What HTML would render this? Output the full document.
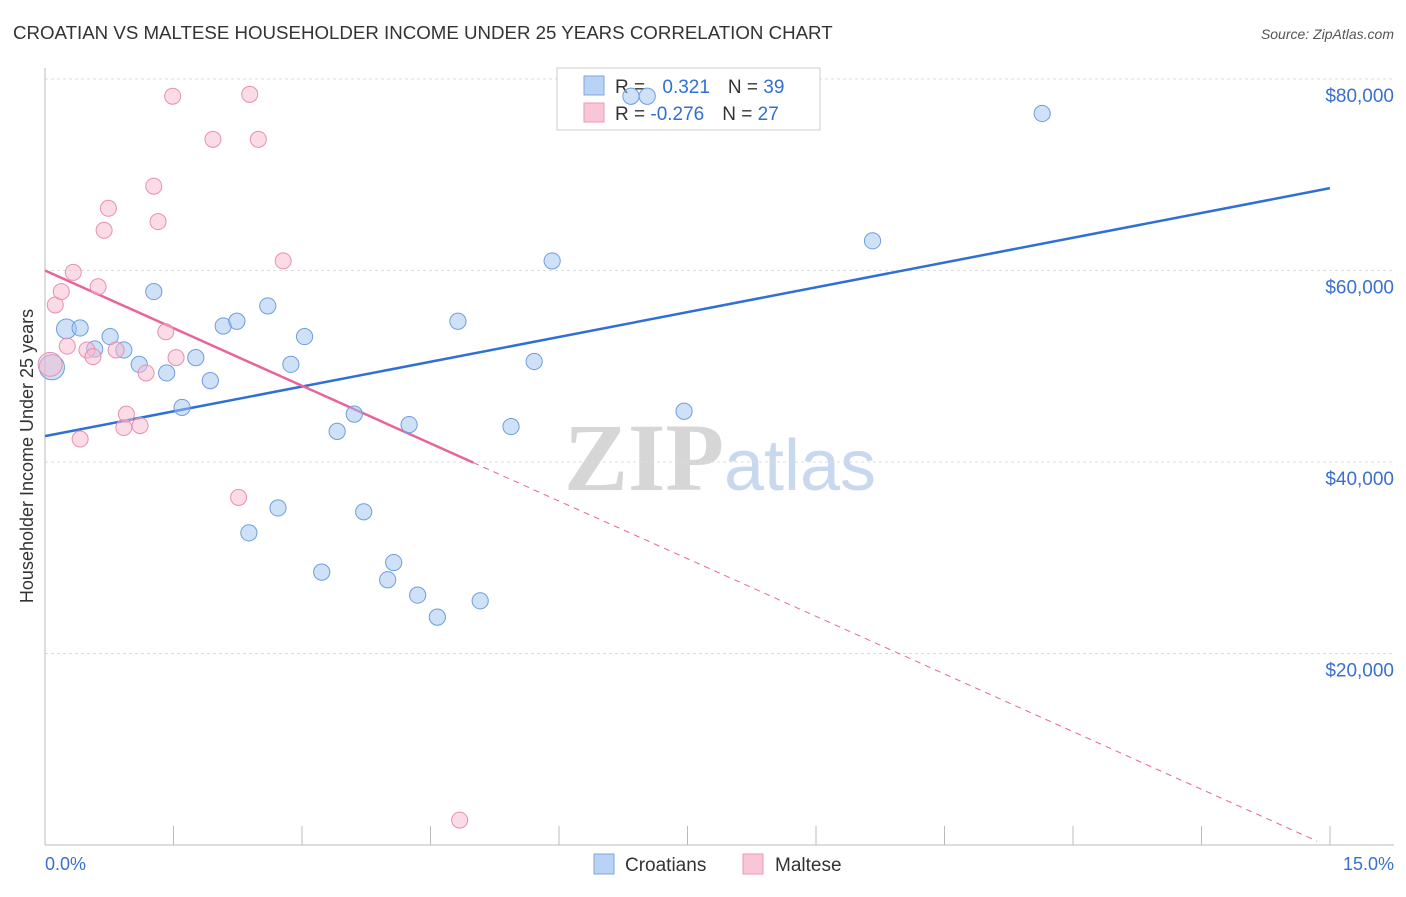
<!DOCTYPE html>
<html><head><meta charset="utf-8"><style>
body{margin:0;background:#fff;font-family:"Liberation Sans",sans-serif;}
svg text{font-family:"Liberation Sans",sans-serif;}
</style></head><body>
<svg id="chart" width="1406" height="892" xmlns="http://www.w3.org/2000/svg">
<text x="13" y="39" font-size="18.7" fill="#333">CROATIAN VS MALTESE HOUSEHOLDER INCOME UNDER 25 YEARS CORRELATION CHART</text>
<text x="1394" y="39" font-size="14" fill="#555" text-anchor="end" font-style="italic">Source: ZipAtlas.com</text>
<text x="720" y="490" font-size="96" text-anchor="middle"><tspan fill="#d6d6d6" font-family="Liberation Serif" font-weight="bold">ZIP</tspan><tspan fill="#c8d9ef" font-size="72">atlas</tspan></text>
<g id="grid"></g>
<g id="axes"></g>
<g>
<rect x="557" y="68" width="263" height="62" fill="#fff" stroke="#ccc"/>
<rect x="584" y="76" width="20" height="19" fill="#b9d3f5" stroke="#7fa6e0"/>
<rect x="584" y="103" width="20" height="19" fill="#f9c6d6" stroke="#ec9ab5"/>
<text x="615" y="93" font-size="19" fill="#333">R = <tspan fill="#2f6fd6" dx="12">0.321</tspan><tspan dx="18" fill="#333">N = </tspan><tspan fill="#2f6fd6">39</tspan></text>
<text x="615" y="120" font-size="19" fill="#333">R = <tspan fill="#2f6fd6">-0.276</tspan><tspan dx="18" fill="#333">N = </tspan><tspan fill="#2f6fd6">27</tspan></text>
</g>
<g id="lines"></g>
<g id="points"></g>
<text transform="translate(33,456) rotate(-90)" font-size="18" fill="#333" text-anchor="middle">Householder Income Under 25 years</text>
<text x="45" y="870" font-size="18" fill="#3a6fd0">0.0%</text>
<text x="1394" y="870" font-size="18" fill="#3a6fd0" text-anchor="end">15.0%</text>
<g>
<rect x="594" y="854" width="20" height="20" fill="#b9d3f5" stroke="#7fa6e0"/>
<text x="625" y="871" font-size="19" fill="#333">Croatians</text>
<rect x="743" y="854" width="20" height="20" fill="#f9c6d6" stroke="#ec9ab5"/>
<text x="775" y="871" font-size="19" fill="#333">Maltese</text>
</g>
</svg>
<script>
const yTicks=[20000,40000,60000,80000];
const yTickLabels=["$20,000","$40,000","$60,000","$80,000"];
const xTicks=[0,1.5,3,4.5,6,7.5,9,10.5,12,13.5,15];
const croX=[0.08,0.25,0.41,0.58,0.76,0.92,1.10,1.27,1.42,1.60,1.76,1.93,2.08,2.24,2.38,2.60,2.72,2.87,3.03,3.23,3.41,3.61,3.72,4.00,4.07,4.25,4.35,4.58,4.82,5.08,5.44,5.71,5.92,6.84,7.03,7.46,9.66,11.64];
const croY=[49.9,53.9,54.0,51.8,53.1,51.7,50.2,57.8,49.3,45.7,50.9,48.5,54.2,54.7,32.6,56.3,35.2,50.2,53.1,28.5,43.2,45.0,34.8,27.7,29.5,43.9,26.1,23.8,54.7,25.5,43.7,50.5,61.0,78.2,78.2,45.3,63.1,76.4];
const croR=[14,11,9,9,9,9,9,9,9,9,9,9,9,9,9,9,9,9,9,9,9,9,9,9,9,9,9,9,9,9,9,9,9,9,9,9,9,9];
const malX=[0.06,0.12,0.19,0.26,0.33,0.41,0.49,0.56,0.62,0.69,0.74,0.83,0.92,0.95,1.11,1.18,1.27,1.32,1.41,1.49,1.53,1.96,2.26,2.39,2.49,2.78,4.84];
const malY=[50.2,56.4,57.8,52.1,59.8,42.4,51.7,51.0,58.3,64.2,66.5,51.7,43.6,45.0,43.8,49.3,68.8,65.1,53.6,78.2,50.9,73.7,36.3,78.4,73.7,61.0,2.6];
const croTrend=[42.7,68.6];
const malTrend=[60.0,-0.2];
const malSolidEnd=5.0;

const X0=45,X1=1330,Y0=845,YTOP=79;
const sx=v=>X0+(v/15)*(X1-X0);
const sy=v=>Y0-(v/80000)*(Y0-YTOP);
const NS="http://www.w3.org/2000/svg";
function mk(parent,tag,attrs){const e=document.createElementNS(NS,tag);for(const k in attrs)e.setAttribute(k,attrs[k]);document.getElementById(parent).appendChild(e);return e;}

yTicks.forEach((t,i)=>{
 const g=mk('grid','line',{x1:X0,x2:1394,y1:sy(t),y2:sy(t),stroke:'#ddd','stroke-dasharray':'3,3'});
 
 
 const l=mk('grid','text',{x:1394,y:sy(t)+23,'font-size':19,fill:'#3a6fd0','text-anchor':'end'});
 l.textContent=yTickLabels[i];
 
 
});
const tg=mk('grid','line',{x1:X0,x2:1394,y1:YTOP,y2:YTOP,stroke:'#ddd','stroke-dasharray':'3,3'});


const ax=mk('axes','line',{x1:X0,x2:1394,y1:Y0,y2:Y0,stroke:'#bbb'});


const ay=mk('axes','line',{x1:X0,x2:X0,y1:68,y2:Y0,stroke:'#bbb'});


xTicks.forEach(t=>{
 const k=mk('axes','line',{x1:sx(t),x2:sx(t),y1:826,y2:Y0,stroke:'#bbb'});
 
 
});

croX.forEach((x,i)=>{
 const c=mk('points','circle',{cx:sx(x),cy:sy(croY[i]*1000),r:croR[i]*0.9,fill:'rgba(160,195,240,0.5)',stroke:'#6d9de0','stroke-width':1});
 
 
});
malX.forEach((x,i)=>{
 const r=i===0?12:8;
 const c=mk('points','circle',{cx:sx(x),cy:sy(malY[i]*1000),r:r,fill:'rgba(248,185,205,0.5)',stroke:'#e88fae','stroke-width':1});
 
 
});

const bl=mk('lines','line',{x1:sx(0),y1:sy(croTrend[0]*1000),x2:sx(15),y2:sy(croTrend[1]*1000),stroke:'#2f6fd6','stroke-width':2.5});


const mAt=x=>malTrend[0]+(malTrend[1]-malTrend[0])*x/15;
const pl=mk('lines','line',{x1:sx(0),y1:sy(mAt(0)*1000),x2:sx(malSolidEnd),y2:sy(mAt(malSolidEnd)*1000),stroke:'#e8649a','stroke-width':2.5});


const pd=mk('lines','line',{x1:sx(malSolidEnd),y1:sy(mAt(malSolidEnd)*1000),x2:sx(14.85),y2:sy(mAt(14.85)*1000),stroke:'#e8649a','stroke-width':1,'stroke-dasharray':'6,5'});


</script>
</body></html>
